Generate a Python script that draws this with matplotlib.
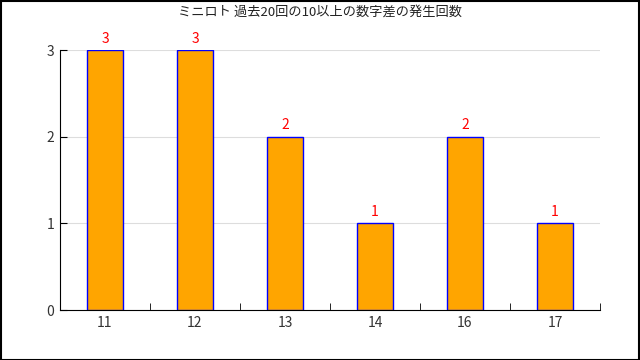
import matplotlib.pyplot as plt
import numpy as np
from matplotlib.patches import Rectangle

plt.rcParams['font.family'] = ['Noto Sans CJK JP', 'DejaVu Sans']

categories = ['11', '12', '13', '14', '16', '17']
counts = [3, 3, 2, 1, 2, 1]

fig = plt.figure(figsize=(6.4, 3.6), dpi=100)
ax = fig.add_axes([60/640, 50/360, 540/640, 260/360])

x = np.arange(len(categories))
ax.bar(x, counts, width=0.4, color='#ffa500', edgecolor='#0000ff', linewidth=1, zorder=3)
for xi, v in zip(x, counts):
    ax.text(xi, v + 0.05, str(v), color='red', ha='center', va='bottom', fontsize=10)

ax.set_xlim(-0.5, len(categories) - 0.5)
ax.set_ylim(0, 3)
ax.set_yticks([0, 1, 2, 3])
ax.set_xticks(x)
ax.set_xticklabels(categories)
ax.set_xticks(np.arange(0.5, len(categories)), minor=True)
ax.tick_params(axis='x', which='major', length=0, labelsize=10, colors='#333333', pad=4)
ax.tick_params(axis='x', which='minor', direction='in', length=5, color='black')
ax.tick_params(axis='y', direction='in', length=5, labelsize=10, colors='#333333', pad=4)
ax.tick_params(axis='y', color='black')
ax.grid(axis='y', color='#dddddd', linewidth=0.8, zorder=0)
for s in ['top', 'right']:
    ax.spines[s].set_visible(False)
ax.spines['left'].set_color('black')
ax.spines['bottom'].set_color('black')

fig.text(0.5, 1 - 12/360, 'ミニロト 過去20回の10以上の数字差の発生回数', ha='center', va='center',
         fontsize=9.5, color='#222222')
fig.patches.append(Rectangle((0.5/640, 0.5/360), 638.5/640, 358.5/360, transform=fig.transFigure,
                             fill=False, edgecolor='black', linewidth=1.5))

fig.savefig('out.png', dpi=100)
